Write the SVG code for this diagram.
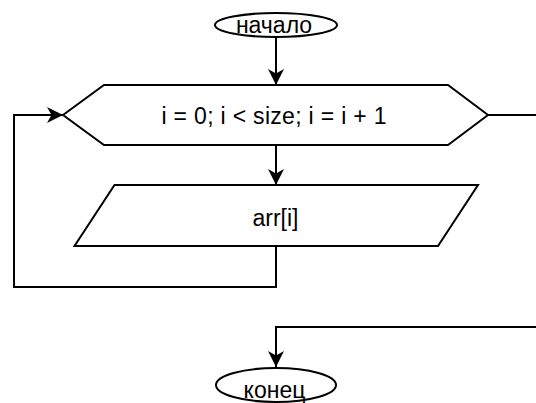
<svg xmlns="http://www.w3.org/2000/svg" width="536" height="403" viewBox="0 0 536 403">
  <style>
    .shape { fill: #ffffff; stroke: #000000; stroke-width: 2; }
    .edge { fill: none; stroke: #000000; stroke-width: 2; }
    .label { font-family: "Liberation Sans", Arial, Helvetica, sans-serif; font-size: 23px; fill: #000000; text-anchor: middle; }
  </style>
  <defs>
    <marker id="arrow" markerUnits="userSpaceOnUse" markerWidth="17" markerHeight="17" viewBox="0 0 17 17" refX="16" refY="8" orient="auto">
      <path d="M16,8 L0,0 L4.5,8 L0,16 Z" fill="#000000"/>
    </marker>
  </defs>
  <rect width="536" height="403" fill="#ffffff"/>

  <g id="connectors">
    <path class="edge" d="M276,37 V85" marker-end="url(#arrow)"/>
    <path class="edge" d="M276,145 V185" marker-end="url(#arrow)"/>
    <path class="edge" d="M276,246 V287 H14 V115 H63" marker-end="url(#arrow)"/>
    <path class="edge" d="M488,115 H546 V327 H276 V367" marker-end="url(#arrow)"/>
  </g>

  <g id="start">
    <ellipse class="shape" cx="276" cy="25" rx="61" ry="12"/>
    <text class="label" x="274" y="33">начало</text>
  </g>

  <g id="loop">
    <polygon class="shape" points="63,115 104,85 448,85 488,115 448,145 104,145"/>
    <text class="label" x="274" y="124" textLength="225" lengthAdjust="spacing">i = 0; i &lt; size; i = i + 1</text>
  </g>

  <g id="output">
    <polygon class="shape" points="114.5,185 478,185 438,246 74.5,246"/>
    <text class="label" x="275.5" y="226">arr[i]</text>
  </g>

  <g id="end">
    <ellipse class="shape" cx="276" cy="385" rx="60" ry="17"/>
    <text class="label" x="274.5" y="398">конец</text>
  </g>
</svg>
